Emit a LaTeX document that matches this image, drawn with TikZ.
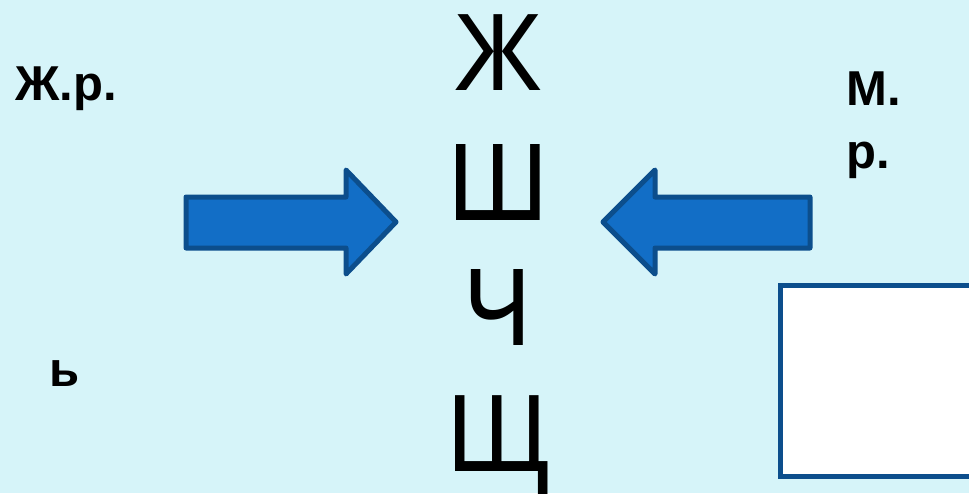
\documentclass[tikz,border=0pt]{standalone}
\usepackage{fontspec}
\setmainfont{Liberation Sans}
\newfontfamily\lettere[FakeStretch=0.82]{Open Sans}
\usetikzlibrary{positioning}
\definecolor{sfondo}{RGB}{214,244,249}
\definecolor{freccia}{RGB}{18,110,198}
\definecolor{bordo}{RGB}{12,78,140}
\tikzset{
    etichetta/.style={anchor=base west, inner sep=0pt, font=\fontsize{49}{58}\selectfont\bfseries}, % testi in grassetto
    lettera/.style={anchor=base, inner sep=0pt, text height=78pt, text depth=0pt,
        font=\lettere\fontsize{142}{150}\selectfont},
    grossafreccia/.style={draw=bordo, line width=5pt, line join=round, fill=freccia},
}

\begin{document}
\begin{tikzpicture}[x=1pt, y=-1pt]
        \fill[sfondo] (0,0) rectangle (969,493);
        \useasboundingbox (0,0) rectangle (969,493);

        % Lettere
        \node[lettera] (zh) at (498,90) {ж};
        \node[lettera] (sh) at (498,220) {ш};
        \node[lettera] (ch) at (498,345) {ч};
        \node[lettera] (shch) at (498,471) {щ};

        % Etichette
        \node[etichetta] (zr) at (15,100) {Ж.р.};
        \node[etichetta] (m) at (846,105) {М.};
        \node[etichetta] (r) at (846,168) {р.};
        \node[etichetta] (soft) at (49,386) {ь};

        % Frecce
        \draw[grossafreccia] (186,197) -- (346,197) -- (346,170) -- (396,222)
            -- (346,274) -- (346,248) -- (186,248) -- cycle;
        \draw[grossafreccia] (810,197) -- (655,197) -- (655,170) -- (603,222)
            -- (655,274) -- (655,248) -- (810,248) -- cycle;

        % Riquadro
        \draw[bordo, line width=5pt, fill=white] (780,285) rectangle (975,476);
        \end{tikzpicture}
\end{document}
